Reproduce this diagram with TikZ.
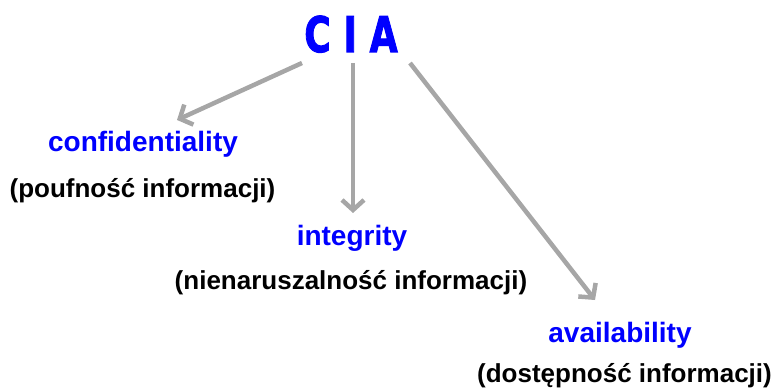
\documentclass[tikz,border=0pt]{standalone}
\usepackage{fontspec}
\setmainfont{Liberation Sans}
\newfontfamily\ciafont{DejaVu Sans}[BoldFeatures={FakeBold=2.2}]
\usetikzlibrary{arrows.meta}
\definecolor{arrowgray}{HTML}{A6A6A6}
\definecolor{termblue}{HTML}{0000FF}
\begin{document}
\begin{tikzpicture}[x=1pt,y=-1pt,
  term/.style={font=\fontsize{28}{30}\selectfont\bfseries, text=termblue, inner sep=0pt, anchor=base},
  gloss/.style={font=\fontsize{26}{28}\selectfont\bfseries, text=black, inner sep=0pt, anchor=base},
  titlebox/.style={font=\fontsize{49}{54}\selectfont\ciafont\bfseries, text=termblue, inner sep=0pt, anchor=base},
  arr/.style={draw=arrowgray, line width=4.5pt, -{Straight Barb[length=10pt,width=22pt]}}]
\useasboundingbox (0,0) rectangle (771,390);
\node[titlebox] (cia) at (351,52) {\scalebox{0.74}[1]{C I A}};
\node[term] (conf) at (143,152) {confidentiality};
\node[gloss] (confpl) at (142.5,197.5) {(poufność informacji)};
\node[term] (integ) at (352,245) {integrity};
\node[gloss] (integpl) at (351,289) {(nienaruszalność informacji)};
\node[term] (avail) at (620,342) {availability};
\node[gloss] (availpl) at (624.5,382) {(dostępność informacji)};
\coordinate (s1) at (302,63);
\coordinate (e1) at (177,120);
\coordinate (s2) at (353,63);
\coordinate (e2) at (353,213);
\coordinate (s3) at (410,63);
\coordinate (e3) at (595,300);
\draw[arr] (s1) -- (e1);
\draw[arr] (s2) -- (e2);
\draw[arr] (s3) -- (e3);
\end{tikzpicture}
\end{document}
